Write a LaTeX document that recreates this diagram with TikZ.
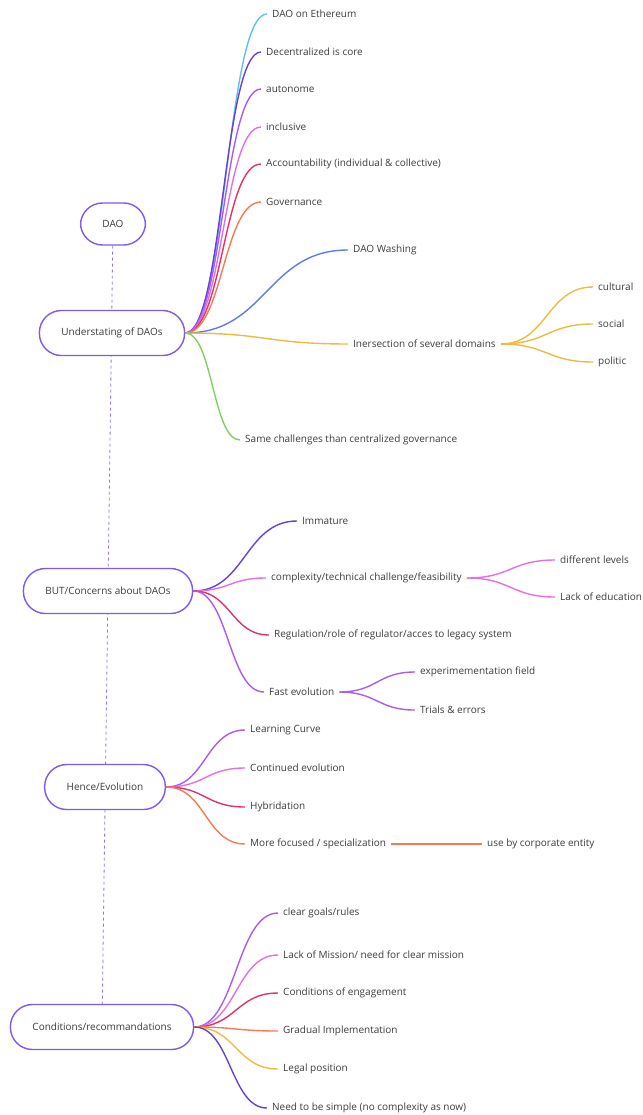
\documentclass[tikz,border=0pt]{standalone}
\usepackage{fontspec}
\setmainfont{Open Sans}
\usetikzlibrary{calc,backgrounds}

\definecolor{txt}{RGB}{60,60,60}
\definecolor{frame}{RGB}{128,88,238}
\definecolor{cSky}{RGB}{96,192,238}
\definecolor{cIndigo}{RGB}{104,64,214}
\definecolor{cViolet}{RGB}{168,92,240}
\definecolor{cPink}{RGB}{228,112,222}
\definecolor{cRed}{RGB}{222,52,104}
\definecolor{cOrange}{RGB}{244,124,84}
\definecolor{cBlue}{RGB}{92,124,238}
\definecolor{cYellow}{RGB}{240,186,64}
\definecolor{cGreen}{RGB}{128,210,92}

\tikzset{
  topic/.style={draw=frame, line width=1.4pt, fill=white, rounded corners=22pt,
    minimum height=45pt, inner xsep=22pt, text=txt, font=\fontsize{10}{12}\selectfont},
  leaf/.style={anchor=west, inner xsep=5pt, inner ysep=2pt, text=txt,
    font=\fontsize{10}{12}\selectfont},
  branch/.style={draw=#1, line width=1.4pt,
    to path={.. controls ($(\tikztostart)!0.5!(\tikztostart -| \tikztotarget)$)
      and ($(\tikztotarget)!0.5!(\tikztotarget -| \tikztostart)$) .. (\tikztotarget)}}
}

\begin{document}
\begin{tikzpicture}[x=1pt, y=-1pt]
  \useasboundingbox (0,0) rectangle (642,1115);

  \node[topic, minimum height=42pt] (dao) at (113,224) {DAO};
  \node[topic] (und) at (112,333) {Understating of DAOs};
  \node[topic] (but) at (108,591) {BUT/Concerns about DAOs};
  \node[topic] (hence) at (105,787) {Hence/Evolution};
  \node[topic] (cond) at (102,1027) {Conditions/recommandations};

  \begin{scope}[on background layer]
    \draw[frame!85, line width=0.8pt, dash pattern=on 3pt off 3pt] (dao) -- (cond);
  \end{scope}

  \node[leaf] (u1) at (267,14) {DAO on Ethereum};
  \node[leaf] (u2) at (261,52) {Decentralized is core};
  \node[leaf] (u3) at (261,89) {autonome};
  \node[leaf] (u4) at (261,127) {inclusive};
  \node[leaf] (u5) at (261,164) {Accountability (individual \& collective)};
  \node[leaf] (u6) at (261,202) {Governance};
  \node[leaf] (u7) at (348,250) {DAO Washing};
  \node[leaf] (u8) at (348,344) {Inersection of several domains};
  \node[leaf] (u8a) at (593,287) {cultural};
  \node[leaf] (u8b) at (593,324) {social};
  \node[leaf] (u8c) at (593,362) {politic};
  \node[leaf] (u9) at (240,440) {Same challenges than centralized governance};

  \path (und.east) edge[branch=cSky] (u1.west)
                   edge[branch=cIndigo] (u2.west)
                   edge[branch=cViolet] (u3.west)
                   edge[branch=cPink] (u4.west)
                   edge[branch=cRed] (u5.west)
                   edge[branch=cOrange] (u6.west)
                   edge[branch=cBlue] (u7.west)
                   edge[branch=cYellow] (u8.west)
                   edge[branch=cGreen] (u9.west);
  \path (u8.east) edge[branch=cYellow] (u8a.west)
                  edge[branch=cYellow] (u8b.west)
                  edge[branch=cYellow] (u8c.west);

  \node[leaf] (b1) at (297,521) {Immature};
  \node[leaf] (b2) at (266,578) {complexity/technical challenge/feasibility};
  \node[leaf] (b2a) at (555,560) {different levels};
  \node[leaf] (b2b) at (555,597) {Lack of education};
  \node[leaf] (b3) at (269,635) {Regulation/role of regulator/acces to legacy system};
  \node[leaf] (b4) at (264,692) {Fast evolution};
  \node[leaf] (b4a) at (415,672) {experimementation field};
  \node[leaf] (b4b) at (415,710) {Trials \& errors};

  \path (but.east) edge[branch=cIndigo] (b1.west)
                   edge[branch=cPink] (b2.west)
                   edge[branch=cRed] (b3.west)
                   edge[branch=cViolet] (b4.west);
  \path (b2.east) edge[branch=cPink] (b2a.west)
                  edge[branch=cPink] (b2b.west);
  \path (b4.east) edge[branch=cViolet] (b4a.west)
                  edge[branch=cViolet] (b4b.west);

  \node[leaf] (h1) at (245,730) {Learning Curve};
  \node[leaf] (h2) at (245,768) {Continued evolution};
  \node[leaf] (h3) at (245,807) {Hybridation};
  \node[leaf] (h4) at (245,844) {More focused / specialization};
  \node[leaf] (h4a) at (482,844) {use by corporate entity};

  \path (hence.east) edge[branch=cViolet] (h1.west)
                     edge[branch=cPink] (h2.west)
                     edge[branch=cRed] (h3.west)
                     edge[branch=cOrange] (h4.west);
  \draw[cOrange, line width=1.4pt] (h4.east) -- (h4a.west);

  \node[leaf] (c1) at (278,913) {clear goals/rules};
  \node[leaf] (c2) at (278,955) {Lack of Mission/ need for clear mission};
  \node[leaf] (c3) at (278,993) {Conditions of engagement};
  \node[leaf] (c4) at (278,1031) {Gradual Implementation};
  \node[leaf] (c5) at (278,1069) {Legal position};
  \node[leaf] (c6) at (267,1108) {Need to be simple (no complexity as now)};

  \path (cond.east) edge[branch=cViolet] (c1.west)
                    edge[branch=cPink] (c2.west)
                    edge[branch=cRed] (c3.west)
                    edge[branch=cOrange] (c4.west)
                    edge[branch=cYellow] (c5.west)
                    edge[branch=cIndigo] (c6.west);
\end{tikzpicture}
\end{document}
